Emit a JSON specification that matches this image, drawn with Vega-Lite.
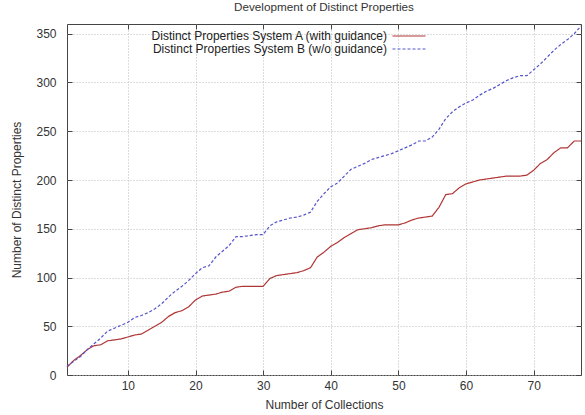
{
  "$schema": "https://vega.github.io/schema/vega-lite/v6.json",
  "width": 514,
  "height": 351,
  "autosize": {"type": "none"},
  "padding": {"left": 67, "top": 24, "right": 4, "bottom": 40},
  "background": "white",
  "config": {
    "font": "Liberation Sans",
    "view": {"stroke": "#444", "strokeWidth": 1},
    "axis": {
      "domain": false,
      "tickSize": -5,
      "tickColor": "#444",
      "labelColor": "#333",
      "labelFontSize": 12,
      "titleFontSize": 12,
      "titleFontWeight": "normal",
      "titleColor": "#333",
      "gridColor": "#bbb",
      "gridDash": [1, 2],
      "gridWidth": 1
    }
  },
  "title": {
    "text": "Development of Distinct Properties",
    "fontSize": 11.7,
    "fontWeight": "normal",
    "color": "#333",
    "anchor": "middle",
    "offset": 10
  },
  "data": {
    "values": [
      {"n": 1, "series": "A", "value": 8}, {"n": 2, "series": "A", "value": 15}, {"n": 3, "series": "A", "value": 20}, {"n": 4, "series": "A", "value": 26}, {"n": 5, "series": "A", "value": 30}, {"n": 6, "series": "A", "value": 31}, {"n": 7, "series": "A", "value": 35}, {"n": 8, "series": "A", "value": 36}, {"n": 9, "series": "A", "value": 37}, {"n": 10, "series": "A", "value": 39},
      {"n": 11, "series": "A", "value": 41}, {"n": 12, "series": "A", "value": 42}, {"n": 13, "series": "A", "value": 46}, {"n": 14, "series": "A", "value": 50}, {"n": 15, "series": "A", "value": 54}, {"n": 16, "series": "A", "value": 60}, {"n": 17, "series": "A", "value": 64}, {"n": 18, "series": "A", "value": 66}, {"n": 19, "series": "A", "value": 70}, {"n": 20, "series": "A", "value": 77},
      {"n": 21, "series": "A", "value": 81}, {"n": 22, "series": "A", "value": 82}, {"n": 23, "series": "A", "value": 83}, {"n": 24, "series": "A", "value": 85}, {"n": 25, "series": "A", "value": 86}, {"n": 26, "series": "A", "value": 90}, {"n": 27, "series": "A", "value": 91}, {"n": 28, "series": "A", "value": 91}, {"n": 29, "series": "A", "value": 91}, {"n": 30, "series": "A", "value": 91},
      {"n": 31, "series": "A", "value": 99}, {"n": 32, "series": "A", "value": 102}, {"n": 33, "series": "A", "value": 103}, {"n": 34, "series": "A", "value": 104}, {"n": 35, "series": "A", "value": 105}, {"n": 36, "series": "A", "value": 107}, {"n": 37, "series": "A", "value": 110}, {"n": 38, "series": "A", "value": 121}, {"n": 39, "series": "A", "value": 126}, {"n": 40, "series": "A", "value": 132},
      {"n": 41, "series": "A", "value": 136}, {"n": 42, "series": "A", "value": 141}, {"n": 43, "series": "A", "value": 145}, {"n": 44, "series": "A", "value": 149}, {"n": 45, "series": "A", "value": 150}, {"n": 46, "series": "A", "value": 151}, {"n": 47, "series": "A", "value": 153}, {"n": 48, "series": "A", "value": 154}, {"n": 49, "series": "A", "value": 154}, {"n": 50, "series": "A", "value": 154},
      {"n": 51, "series": "A", "value": 156}, {"n": 52, "series": "A", "value": 159}, {"n": 53, "series": "A", "value": 161}, {"n": 54, "series": "A", "value": 162}, {"n": 55, "series": "A", "value": 163}, {"n": 56, "series": "A", "value": 172}, {"n": 57, "series": "A", "value": 185}, {"n": 58, "series": "A", "value": 186}, {"n": 59, "series": "A", "value": 192}, {"n": 60, "series": "A", "value": 196},
      {"n": 61, "series": "A", "value": 198}, {"n": 62, "series": "A", "value": 200}, {"n": 63, "series": "A", "value": 201}, {"n": 64, "series": "A", "value": 202}, {"n": 65, "series": "A", "value": 203}, {"n": 66, "series": "A", "value": 204}, {"n": 67, "series": "A", "value": 204}, {"n": 68, "series": "A", "value": 204}, {"n": 69, "series": "A", "value": 205}, {"n": 70, "series": "A", "value": 210},
      {"n": 71, "series": "A", "value": 217}, {"n": 72, "series": "A", "value": 221}, {"n": 73, "series": "A", "value": 228}, {"n": 74, "series": "A", "value": 233}, {"n": 75, "series": "A", "value": 233}, {"n": 76, "series": "A", "value": 240}, {"n": 77, "series": "A", "value": 240},
      {"n": 1, "series": "B", "value": 9}, {"n": 2, "series": "B", "value": 14}, {"n": 3, "series": "B", "value": 19}, {"n": 4, "series": "B", "value": 26}, {"n": 5, "series": "B", "value": 32}, {"n": 6, "series": "B", "value": 38}, {"n": 7, "series": "B", "value": 45}, {"n": 8, "series": "B", "value": 48}, {"n": 9, "series": "B", "value": 51}, {"n": 10, "series": "B", "value": 54},
      {"n": 11, "series": "B", "value": 59}, {"n": 12, "series": "B", "value": 61}, {"n": 13, "series": "B", "value": 64}, {"n": 14, "series": "B", "value": 68}, {"n": 15, "series": "B", "value": 73}, {"n": 16, "series": "B", "value": 80}, {"n": 17, "series": "B", "value": 86}, {"n": 18, "series": "B", "value": 91}, {"n": 19, "series": "B", "value": 97}, {"n": 20, "series": "B", "value": 104},
      {"n": 21, "series": "B", "value": 110}, {"n": 22, "series": "B", "value": 112}, {"n": 23, "series": "B", "value": 121}, {"n": 24, "series": "B", "value": 127}, {"n": 25, "series": "B", "value": 133}, {"n": 26, "series": "B", "value": 142}, {"n": 27, "series": "B", "value": 142}, {"n": 28, "series": "B", "value": 143}, {"n": 29, "series": "B", "value": 144}, {"n": 30, "series": "B", "value": 144},
      {"n": 31, "series": "B", "value": 153}, {"n": 32, "series": "B", "value": 157}, {"n": 33, "series": "B", "value": 159}, {"n": 34, "series": "B", "value": 161}, {"n": 35, "series": "B", "value": 162}, {"n": 36, "series": "B", "value": 164}, {"n": 37, "series": "B", "value": 167}, {"n": 38, "series": "B", "value": 178}, {"n": 39, "series": "B", "value": 186}, {"n": 40, "series": "B", "value": 193},
      {"n": 41, "series": "B", "value": 197}, {"n": 42, "series": "B", "value": 204}, {"n": 43, "series": "B", "value": 211}, {"n": 44, "series": "B", "value": 214}, {"n": 45, "series": "B", "value": 217}, {"n": 46, "series": "B", "value": 221}, {"n": 47, "series": "B", "value": 223}, {"n": 48, "series": "B", "value": 225}, {"n": 49, "series": "B", "value": 227}, {"n": 50, "series": "B", "value": 230},
      {"n": 51, "series": "B", "value": 233}, {"n": 52, "series": "B", "value": 236}, {"n": 53, "series": "B", "value": 240}, {"n": 54, "series": "B", "value": 240}, {"n": 55, "series": "B", "value": 244}, {"n": 56, "series": "B", "value": 252}, {"n": 57, "series": "B", "value": 263}, {"n": 58, "series": "B", "value": 270}, {"n": 59, "series": "B", "value": 275}, {"n": 60, "series": "B", "value": 279},
      {"n": 61, "series": "B", "value": 282}, {"n": 62, "series": "B", "value": 287}, {"n": 63, "series": "B", "value": 291}, {"n": 64, "series": "B", "value": 294}, {"n": 65, "series": "B", "value": 298}, {"n": 66, "series": "B", "value": 302}, {"n": 67, "series": "B", "value": 305}, {"n": 68, "series": "B", "value": 307}, {"n": 69, "series": "B", "value": 307}, {"n": 70, "series": "B", "value": 313},
      {"n": 71, "series": "B", "value": 319}, {"n": 72, "series": "B", "value": 326}, {"n": 73, "series": "B", "value": 333}, {"n": 74, "series": "B", "value": 339}, {"n": 75, "series": "B", "value": 344}, {"n": 76, "series": "B", "value": 350}, {"n": 77, "series": "B", "value": 358}
    ]
  },
  "layer": [
    {
      "mark": {"type": "line", "strokeWidth": 1.2},
      "encoding": {
        "x": {
          "field": "n", "type": "quantitative",
          "scale": {"domain": [1, 77], "nice": false, "zero": false},
          "axis": {"orient": "bottom", "values": [10, 20, 30, 40, 50, 60, 70], "title": "Number of Collections", "labelPadding": 10, "titlePadding": 8}
        },
        "y": {
          "field": "value", "type": "quantitative",
          "scale": {"domain": [0, 360], "nice": false},
          "axis": {"orient": "left", "values": [0, 50, 100, 150, 200, 250, 300, 350], "title": "Number of Distinct Properties", "labelPadding": 16, "titlePadding": 12}
        },
        "color": {
          "field": "series", "type": "nominal",
          "scale": {"domain": ["A", "B"], "range": ["#b03535", "#5555cc"]},
          "legend": {
            "title": null,
            "orient": "none",
            "legendX": 336,
            "legendY": 6,
            "padding": 0,
            "symbolType": "M-4,0H4",
            "symbolSize": 68,
            "symbolStrokeWidth": 1.2,
            "labelAlign": "right",
            "labelOffset": -28,
            "labelFontSize": 12,
            "labelColor": "#222",
            "labelLimit": 400,
            "rowPadding": 1,
            "labelExpr": "datum.value == 'A' ? 'Distinct Properties System A (with guidance)' : 'Distinct Properties System B (w/o guidance)'"
          }
        },
        "strokeDash": {
          "field": "series", "type": "nominal",
          "scale": {"domain": ["A", "B"], "range": [[1, 0], [3, 2]]},
          "legend": {
            "title": null,
            "orient": "none",
            "legendX": 336,
            "legendY": 6,
            "padding": 0,
            "symbolType": "M-4,0H4",
            "symbolSize": 68,
            "symbolStrokeWidth": 1.2,
            "labelAlign": "right",
            "labelOffset": -28,
            "labelFontSize": 12,
            "labelColor": "#222",
            "labelLimit": 400,
            "rowPadding": 1,
            "labelExpr": "datum.value == 'A' ? 'Distinct Properties System A (with guidance)' : 'Distinct Properties System B (w/o guidance)'"
          }
        }
      }
    },
    {
      "mark": {"type": "line", "opacity": 0},
      "encoding": {
        "x": {
          "field": "n", "type": "quantitative",
          "scale": {"domain": [1, 77], "nice": false, "zero": false},
          "axis": {"orient": "top", "values": [10, 20, 30, 40, 50, 60, 70], "title": null, "labels": false, "grid": false}
        },
        "y": {
          "field": "value", "type": "quantitative",
          "scale": {"domain": [0, 360], "nice": false},
          "axis": {"orient": "right", "values": [0, 50, 100, 150, 200, 250, 300, 350], "title": null, "labels": false, "grid": false}
        },
        "detail": {"field": "series", "type": "nominal"}
      }
    }
  ],
  "resolve": {"axis": {"x": "independent", "y": "independent"}}
}
